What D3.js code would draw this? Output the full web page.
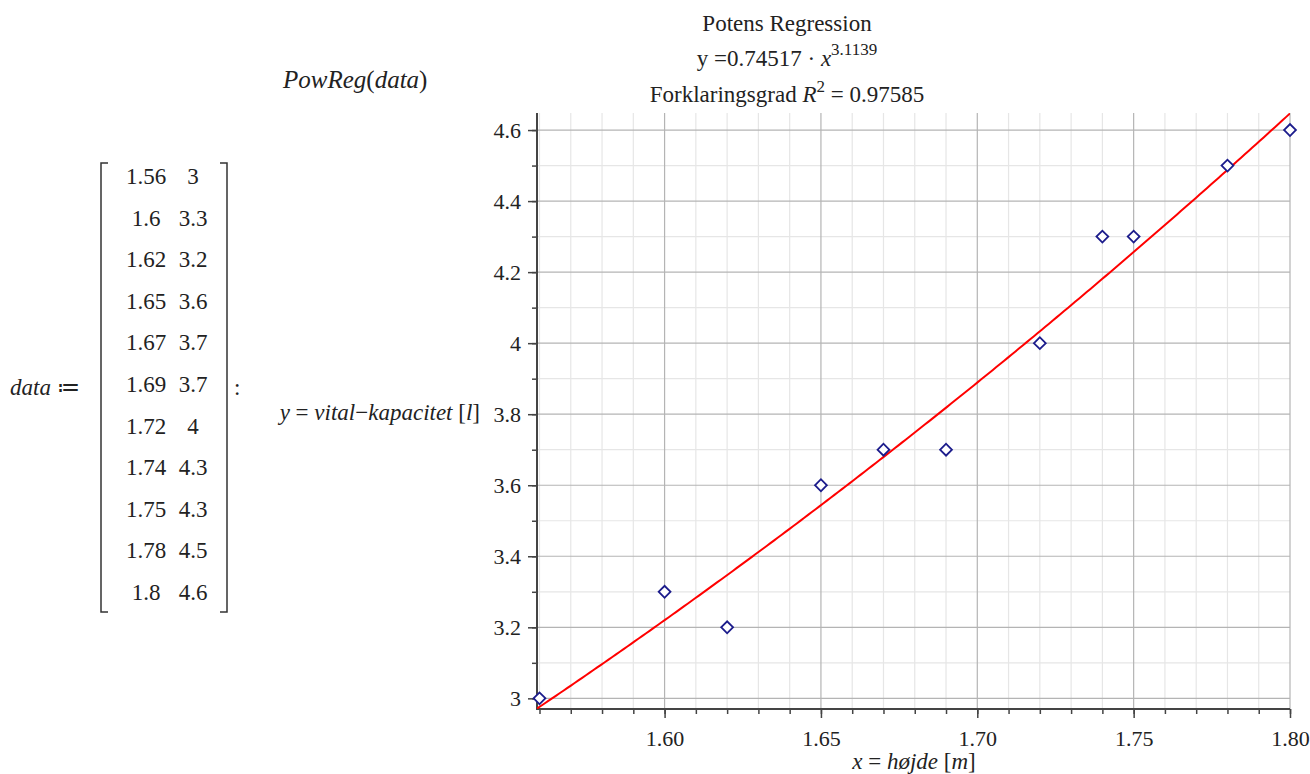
<!DOCTYPE html>
<html>
<head>
<meta charset="UTF-8">
<title>Potens Regression</title>
<script src="https://d3js.org/d3.v7.min.js"></script>
<style>
  body { margin: 0; background: #fff; }
  text, tspan { font-family: 'Liberation Serif' !important; }
  .it { font-style: italic; }
</style>
</head>
<body>
<svg id="chart" width="1310" height="774"></svg>
<script>
// data read from the matrix
const heights = [1.56, 1.6, 1.62, 1.65, 1.67, 1.69, 1.72, 1.74, 1.75, 1.78, 1.8];
const capacity = [3, 3.3, 3.2, 3.6, 3.7, 3.7, 4, 4.3, 4.3, 4.5, 4.6];
const heightLabels = ["1.56", "1.6", "1.62", "1.65", "1.67", "1.69", "1.72", "1.74", "1.75", "1.78", "1.8"];
const capLabels = ["3", "3.3", "3.2", "3.6", "3.7", "3.7", "4", "4.3", "4.3", "4.5", "4.6"];

// fitted model y = a * x^b
const coefA = 0.74517;
const coefB = 3.1139;
const rSquared = "0.97585";

const xTicks = [1.60, 1.65, 1.70, 1.75, 1.80];
const yTicks = [3, 3.2, 3.4, 3.6, 3.8, 4, 4.2, 4.4, 4.6];

const FONT = "Liberation Serif";
const svg = d3.select("#chart");

// plot area
const pL = 537, pR = 1290, pT = 113, pB = 709;

const x = d3.scaleLinear().domain([1.5592, 1.80]).range([pL, pR]);
const y = d3.scaleLinear().domain([2.97, 4.648]).range([pB, pT]);

const minorX = d3.range(156, 181).map(d => d / 100);
const minorY = d3.range(30, 47).map(d => d / 10);

// grid
const grid = svg.append("g");
grid.selectAll(".vminor").data(minorX.filter(d => Math.round(d * 100) % 5 !== 0))
  .join("line")
  .attr("x1", d => x(d)).attr("x2", d => x(d))
  .attr("y1", pT).attr("y2", pB)
  .attr("stroke", "#e6e6e6").attr("stroke-width", 1.2);
grid.selectAll(".hminor").data(minorY.filter(d => Math.round(d * 10) % 2 !== 0))
  .join("line")
  .attr("x1", pL).attr("x2", pR)
  .attr("y1", d => y(d)).attr("y2", d => y(d))
  .attr("stroke", "#e6e6e6").attr("stroke-width", 1.2);
grid.selectAll(".vmajor").data(xTicks)
  .join("line")
  .attr("x1", d => x(d)).attr("x2", d => x(d))
  .attr("y1", pT).attr("y2", pB)
  .attr("stroke", "#b4b4b4").attr("stroke-width", 1.2);
grid.selectAll(".hmajor").data(yTicks)
  .join("line")
  .attr("x1", pL).attr("x2", pR)
  .attr("y1", d => y(d)).attr("y2", d => y(d))
  .attr("stroke", "#b4b4b4").attr("stroke-width", 1.2);

// axes
const xAxis = svg.append("g").attr("transform", `translate(0,${pB})`);
xAxis.call(d3.axisBottom(x).tickValues(minorX).tickSize(5).tickFormat(""));
xAxis.append("g").call(d3.axisBottom(x).tickValues(xTicks).tickSize(9).tickPadding(12)
  .tickFormat(d3.format(".2f")));

const yAxis = svg.append("g").attr("transform", `translate(${pL},0)`);
yAxis.call(d3.axisLeft(y).tickValues(minorY).tickSize(5).tickFormat(""));
yAxis.append("g").call(d3.axisLeft(y).tickValues(yTicks).tickSize(9).tickPadding(7)
  .tickFormat(d => d3.format("")(d)));

[xAxis, yAxis].forEach(ax => {
  ax.attr("font-family", FONT);
  ax.selectAll("g").attr("font-family", FONT);
  ax.selectAll("line").attr("stroke", "#444").attr("stroke-width", 1.5);
  ax.selectAll("text").attr("font-size", 22).attr("fill", "#222")
    .attr("font-family", FONT).style("font-family", "'Liberation Serif'");
});
svg.selectAll(".domain").remove();
svg.append("line").attr("x1", pL).attr("x2", pL).attr("y1", pT).attr("y2", pB + 1)
  .attr("stroke", "#444").attr("stroke-width", 2);
svg.append("line").attr("x1", pL).attr("x2", pR).attr("y1", pB).attr("y2", pB)
  .attr("stroke", "#444").attr("stroke-width", 2);

// regression curve
svg.append("clipPath").attr("id", "clip").append("rect")
  .attr("x", pL).attr("y", pT).attr("width", pR - pL).attr("height", pB - pT);
const curveX = d3.range(0, 201).map(i => x.domain()[0] + (x.domain()[1] - x.domain()[0]) * i / 200);
svg.append("path")
  .datum(curveX)
  .attr("clip-path", "url(#clip)")
  .attr("fill", "none")
  .attr("stroke", "#ff0000")
  .attr("stroke-width", 2)
  .attr("d", d3.line().x(d => x(d)).y(d => y(coefA * Math.pow(d, coefB))));

// points
const diamond = d3.symbol().type(d3.symbolSquare).size(70);
svg.selectAll(".pt").data(heights)
  .join("path")
  .attr("d", diamond)
  .attr("transform", (d, i) => `translate(${x(d)},${y(capacity[i])}) rotate(45)`)
  .attr("fill", "#fff")
  .attr("stroke", "#1c1c8c")
  .attr("stroke-width", 1.8);

// every other text
function txt(xp, yp, size) {
  return svg.append("text").attr("x", xp).attr("y", yp).attr("font-size", size)
    .attr("fill", "#222").attr("font-family", FONT).style("font-family", "'Liberation Serif'");
}

// titles
const cx = 787;
txt(cx, 31, 23).attr("text-anchor", "middle").text("Potens Regression");
const eq = txt(cx, 66, 23).attr("text-anchor", "middle");
eq.append("tspan").text("y =0.74517 · ");
eq.append("tspan").attr("class", "it").text("x");
eq.append("tspan").attr("font-size", 17).attr("dy", -11).text(String(coefB));
const r2 = txt(cx, 102, 23).attr("text-anchor", "middle");
r2.append("tspan").text("Forklaringsgrad ");
r2.append("tspan").attr("class", "it").text("R");
r2.append("tspan").attr("font-size", 17).attr("dy", -10).text("2");
r2.append("tspan").attr("dy", 10).text(" = " + rSquared);

// axis titles
const yl = txt(480, 420, 23).attr("text-anchor", "end");
yl.append("tspan").attr("class", "it").text("y");
yl.append("tspan").text(" = ");
yl.append("tspan").attr("class", "it").text("vital");
yl.append("tspan").text("−");
yl.append("tspan").attr("class", "it").text("kapacitet");
yl.append("tspan").text(" [");
yl.append("tspan").attr("class", "it").text("l");
yl.append("tspan").text("]");

const xl = txt(914, 769, 23).attr("text-anchor", "middle");
xl.append("tspan").attr("class", "it").text("x");
xl.append("tspan").text(" = ");
xl.append("tspan").attr("class", "it").text("højde");
xl.append("tspan").text(" [");
xl.append("tspan").attr("class", "it").text("m");
xl.append("tspan").text("]");

// left: Maple-style input
const pr = txt(283, 88, 25);
pr.append("tspan").attr("class", "it").text("PowReg");
pr.append("tspan").text("(");
pr.append("tspan").attr("class", "it").text("data");
pr.append("tspan").text(")");

const dl = txt(10, 395, 23);
dl.append("tspan").attr("class", "it").text("data");
dl.append("tspan").text(" ≔");

const rowY = d3.scaleLinear().domain([0, heights.length - 1]).range([184, 600]);
heightLabels.forEach((d, i) => txt(146, rowY(i), 23).attr("text-anchor", "middle").text(d));
capLabels.forEach((d, i) => txt(193, rowY(i), 23).attr("text-anchor", "middle").text(d));

const br = svg.append("g").attr("fill", "none").attr("stroke", "#333").attr("stroke-width", 1.5);
br.append("path").attr("d", "M108,163 H101 V612 H108");
br.append("path").attr("d", "M220,163 H227 V612 H220");
txt(234, 395, 23).text(":");
</script>
</body>
</html>
